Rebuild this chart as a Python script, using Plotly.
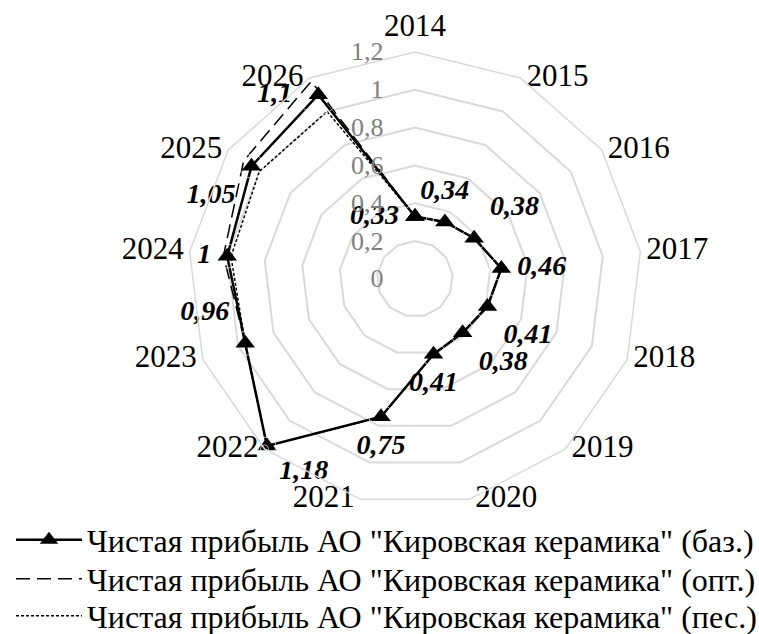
import plotly.graph_objects as go

years = ["2014", "2015", "2016", "2017", "2018", "2019", "2020",
         "2021", "2022", "2023", "2024", "2025", "2026"]
base = [0.33, 0.34, 0.38, 0.46, 0.41, 0.38, 0.41, 0.75, 1.18, 0.96, 1.0, 1.05, 1.1]
opt = [0.33, 0.34, 0.38, 0.46, 0.41, 0.38, 0.41, 0.75, 1.18, 0.96, 1.02, 1.1, 1.18]
pes = [0.33, 0.34, 0.38, 0.46, 0.41, 0.38, 0.41, 0.75, 1.18, 0.96, 0.98, 1.0, 1.0]
r_max = 1.2
r_step = 0.2

label_pos = ["middle left", "top center", "top right", "middle right", "bottom right",
             "bottom right", "bottom center", "bottom center", "bottom right",
             "top left", "middle left", "bottom left", "middle left"]
year_pos = ["top center"] + ["middle right"] * 6 + ["middle left"] * 6

names = ['Чистая прибыль АО "Кировская керамика" (баз.)',
         'Чистая прибыль АО "Кировская керамика" (опт.)',
         'Чистая прибыль АО "Кировская керамика" (пес.)']

def closed(v):
    return list(v) + [v[0]]

theta = closed(years)
font = "Liberation Serif, Times New Roman, serif"

fig = go.Figure()
fig.add_trace(go.Scatterpolar(
    r=closed(opt), theta=theta, mode="lines", name=names[1], legend="legend2",
    line=dict(color="black", width=1.5, dash="14px,7px")))
fig.add_trace(go.Scatterpolar(
    r=closed(pes), theta=theta, mode="lines", name=names[2], legend="legend3",
    line=dict(color="black", width=1.5, dash="3px,2px")))
fig.add_trace(go.Scatterpolar(
    r=closed(base), theta=theta, mode="lines+markers", name=names[0], legend="legend",
    line=dict(color="black", width=2.5),
    marker=dict(symbol="triangle-up", size=17, color="black")))
# data labels
fig.add_trace(go.Scatterpolar(
    r=base, theta=years, mode="markers+text", showlegend=False, hoverinfo="skip",
    marker=dict(size=[24] * 8 + [18] + [24] * 3 + [40], color="rgba(0,0,0,0)"),
    text=[f"{v:g}".replace(".", ",") for v in base],
    textposition=label_pos,
    textfont=dict(family=font, size=28, color="black", weight="bold", style="italic")))
# category labels at the outer ring
fig.add_trace(go.Scatterpolar(
    r=[r_max] * len(years), theta=years, mode="markers+text", showlegend=False,
    hoverinfo="skip", cliponaxis=False,
    marker=dict(size=[12] + [8] * 12, color="rgba(0,0,0,0)"),
    text=years, textposition=year_pos,
    textfont=dict(family=font, size=31, color="black")))

leg_common = dict(xanchor="left", yanchor="middle",
                  font=dict(family=font, size=32, color="black"),
                  itemwidth=66, bgcolor="rgba(0,0,0,0)")

fig.update_layout(
    width=759, height=634,
    paper_bgcolor="white", plot_bgcolor="white",
    margin=dict(l=0, r=0, t=0, b=0, autoexpand=False),
    separators=", ",
    font=dict(family=font, size=30, color="black"),
    polar=dict(
        domain=dict(x=[0.2477, 0.8458], y=[0.202, 0.918]),
        bgcolor="white",
        gridshape="linear",
        radialaxis=dict(range=[0, r_max], dtick=r_step, angle=90, side="counterclockwise",
                        tickangle=90, showline=False, ticks="outside", ticklen=22,
                        tickcolor="rgba(0,0,0,0)", gridcolor="#d9d9d9", gridwidth=1.5,
                        tickfont=dict(family=font, size=26, color="#808080")),
        angularaxis=dict(rotation=90, direction="clockwise", showgrid=False,
                         showline=True, linecolor="#d9d9d9", linewidth=1.5, ticks="",
                         showticklabels=False),
    ),
    legend=dict(x=0.0145, y=1 - 540 / 634, **leg_common),
    legend2=dict(x=0.0145, y=1 - 579 / 634, **leg_common),
    legend3=dict(x=0.0145, y=1 - 616 / 634, **leg_common),
    showlegend=True,
)

fig.write_html("out.html", config={"displayModeBar": False},
               post_script="document.body.style.margin='0';")
